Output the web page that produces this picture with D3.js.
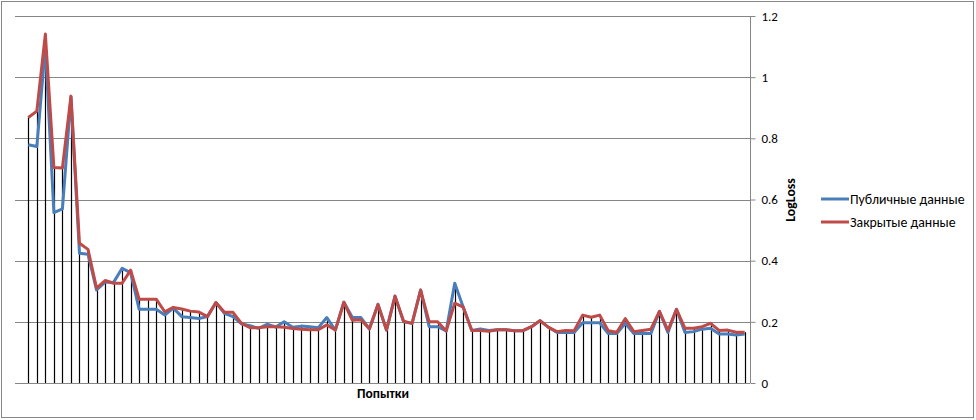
<!DOCTYPE html>
<html><head><meta charset="utf-8">
<script src="https://cdn.jsdelivr.net/npm/d3@7"></script>
<style>body{margin:0;background:#fff}svg text{font-family:Carlito,Calibri,"Liberation Sans",Arial,sans-serif}</style>
</head><body><svg id="c" width="976" height="420"></svg>
<script>
const publicData = [0.779,0.773,1.10,0.557,0.569,0.935,0.424,0.421,0.304,0.33,
0.329,0.375,0.361,0.241,0.241,0.241,0.222,0.245,0.217,0.214,
0.211,0.217,0.263,0.228,0.217,0.193,0.187,0.179,0.192,0.183,
0.2,0.182,0.186,0.184,0.181,0.214,0.173,0.264,0.214,0.214,
0.177,0.257,0.173,0.284,0.2,0.195,0.304,0.184,0.184,0.17,
0.326,0.248,0.172,0.177,0.172,0.174,0.174,0.171,0.171,0.184,
0.204,0.182,0.165,0.165,0.165,0.197,0.197,0.197,0.162,0.162,
0.195,0.162,0.162,0.162,0.234,0.165,0.241,0.165,0.168,0.176,
0.179,0.16,0.16,0.157,0.16];
const privateData = [0.868,0.889,1.141,0.705,0.703,0.938,0.457,0.437,0.31,0.335,
0.326,0.326,0.369,0.274,0.274,0.274,0.233,0.247,0.242,0.235,
0.232,0.217,0.263,0.231,0.231,0.195,0.181,0.181,0.184,0.184,
0.182,0.178,0.176,0.174,0.174,0.19,0.173,0.264,0.205,0.207,
0.177,0.257,0.173,0.284,0.202,0.195,0.304,0.2,0.2,0.17,
0.261,0.248,0.172,0.172,0.169,0.174,0.174,0.171,0.171,0.184,
0.204,0.182,0.168,0.172,0.171,0.222,0.215,0.222,0.171,0.166,
0.211,0.168,0.172,0.176,0.234,0.172,0.241,0.179,0.179,0.184,
0.195,0.172,0.173,0.166,0.166];
const yTicks = [0,0.2,0.4,0.6,0.8,1,1.2];
const seriesNames = ["Публичные данные","Закрытые данные"];
const colors = ["#4a7ebb","#be4b48"];
const xTitle = "Попытки", yTitle = "LogLoss";

const svg = d3.select("#c");
svg.append("rect").attr("x",1.5).attr("y",1.5).attr("width",972).attr("height",416)
  .attr("fill","#fff").attr("stroke","#868686");

const idx = d3.range(publicData.length);
const x = d3.scalePoint().domain(idx).range([28.3,744.7]);
const y = d3.scaleLinear().domain([0,1.2]).range([383,16]);
const plotL = 15, plotR = 750;

// gridlines
svg.append("g").selectAll("line").data(yTicks).join("line")
  .attr("x1",plotL).attr("x2",plotR)
  .attr("y1",d=>Math.round(y(d))+0.5).attr("y2",d=>Math.round(y(d))+0.5)
  .attr("stroke","#868686");

// right axis
const ax = svg.append("g").attr("transform",`translate(${plotR+0.5},0)`)
  .call(d3.axisRight(y).tickValues(yTicks).tickSize(5).tickPadding(6).tickFormat(d=>d3.format("")(d)));
ax.select(".domain").attr("stroke","#868686").attr("d",`M0,${y(1.2)}V${y(0)}`);
ax.selectAll(".tick line").attr("stroke","#868686");
ax.selectAll(".tick text").attr("fill","#000").attr("font-size",13).attr("x",11);

// drop lines
svg.append("g").selectAll("line").data(idx).join("line")
  .attr("x1",i=>Math.round(x(i))+0.5).attr("x2",i=>Math.round(x(i))+0.5)
  .attr("y1",i=>y(Math.max(publicData[i],privateData[i]))).attr("y2",y(0))
  .attr("stroke","#000").attr("stroke-width",1.2);

const line = d3.line().x((d,i)=>x(i)).y(d=>y(d));
[publicData, privateData].forEach((s,k)=>{
  svg.append("path").datum(s).attr("d",line).attr("fill","none")
    .attr("stroke",colors[k]).attr("stroke-width",3).attr("stroke-linejoin","round");
});

// titles
svg.append("text").attr("x",383).attr("y",398).attr("text-anchor","middle")
  .attr("font-weight","bold").attr("font-size",13.5).text(xTitle);
svg.append("text").attr("transform","translate(795,200) rotate(-90)").attr("text-anchor","middle")
  .attr("font-weight","bold").attr("font-size",13.8).text(yTitle);

// legend
const lg = svg.append("g");
seriesNames.forEach((n,k)=>{
  const yy = 199 + k*23;
  lg.append("line").attr("x1",821).attr("x2",849).attr("y1",yy).attr("y2",yy)
    .attr("stroke",colors[k]).attr("stroke-width",3);
  lg.append("text").attr("x",850).attr("y",yy+4.7).attr("font-size",13.8).attr("fill","#000").text(n);
});
</script></body></html>
